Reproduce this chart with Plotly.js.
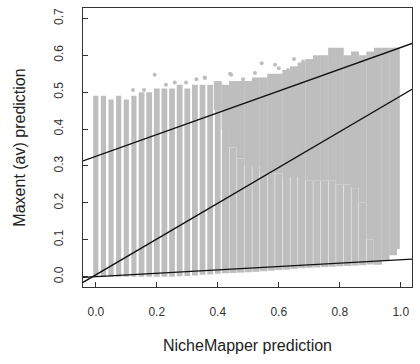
<!DOCTYPE html>
<html>
<head>
<meta charset="utf-8">
<script src="https://cdn.plot.ly/plotly-3.0.1.min.js"></script>
<style>html,body{margin:0;padding:0;background:#fff;}#chart{width:420px;height:364px;}</style>
</head>
<body>
<div id="chart"></div>
<script>
// Point cloud read as vertical columns: centre x, lower edge, upper edge,
// and the height below which the column shows white streaks.
const colX = [0.000,0.025,0.050,0.075,0.100,0.125,0.150,0.175,0.200,0.225,0.250,0.275,0.300,0.325,0.350,0.375,0.400,0.425,0.450,0.475,0.500,0.525,0.550,0.575,0.600,0.625,0.650,0.675,0.700,0.725,0.750,0.775,0.800,0.825,0.850,0.875,0.900,0.925,0.950,0.975,0.987];
const colLow = [0.000,0.000,0.000,0.000,0.000,0.000,0.000,0.000,0.000,0.000,0.000,0.001,0.002,0.003,0.005,0.006,0.008,0.009,0.010,0.011,0.012,0.013,0.015,0.016,0.018,0.019,0.021,0.023,0.024,0.025,0.026,0.027,0.028,0.029,0.030,0.031,0.033,0.037,0.045,0.058,0.075];
const colHigh = [0.49,0.49,0.48,0.49,0.48,0.49,0.50,0.50,0.51,0.51,0.51,0.52,0.51,0.52,0.52,0.52,0.53,0.52,0.53,0.53,0.53,0.54,0.54,0.55,0.55,0.56,0.57,0.58,0.59,0.60,0.60,0.62,0.62,0.60,0.61,0.60,0.61,0.62,0.62,0.62,0.62];
const colSplit = [0.49,0.49,0.48,0.49,0.48,0.49,0.50,0.50,0.51,0.51,0.51,0.52,0.51,0.52,0.52,0.52,0.45,0.40,0.35,0.32,0.30,0.30,0.28,0.28,0.28,0.27,0.27,0.27,0.26,0.26,0.26,0.26,0.25,0.25,0.24,0.20,0.10,0.033,0.045,0.058,0.075];

// Scattered points above the dense envelope
const outX = [0.122,0.158,0.193,0.259,0.296,0.357,0.444,0.483,0.522,0.544,0.588,0.630,0.680,0.713,0.440,0.358,0.230,0.330,0.600,0.650];
const outY = [0.506,0.506,0.547,0.526,0.526,0.540,0.547,0.535,0.552,0.578,0.574,0.560,0.583,0.574,0.550,0.538,0.520,0.535,0.565,0.590];

// Fitted lines: intercepts and slopes
const lineIntercept = [0.326, 0.005, 0.000];
const lineSlope = [0.295, 0.485, 0.046];

const tickVX = [0,0.2,0.4,0.6,0.8,1.0];
const tickTX = ['0.0','0.2','0.4','0.6','0.8','1.0'];
const tickVY = [0,0.1,0.2,0.3,0.4,0.5,0.6,0.7];
const tickTY = ['0.0','0.1','0.2','0.3','0.4','0.5','0.6','0.7'];

const xRange = [-0.042, 1.037];
const yRange = [-0.028, 0.728];
const GRAY = '#bebebe';

function narrowWidth(x){
  if (x < 0.15) return 0.017;
  if (x < 0.42) return 0.019;
  return 0.0235;
}

const traces = [];
traces.push({
  type:'bar', x: colX, base: colLow,
  y: colX.map((_,i)=>colSplit[i]-colLow[i]),
  width: colX.map(narrowWidth),
  marker:{color:GRAY, line:{width:0}}, hoverinfo:'skip', showlegend:false
});
traces.push({
  type:'bar', x: colX, base: colSplit,
  y: colX.map((_,i)=>Math.max(0,colHigh[i]-colSplit[i])),
  width: colX.map(x=> x>0.98 ? 0.02 : 0.026),
  marker:{color:GRAY, line:{width:0}}, hoverinfo:'skip', showlegend:false
});
traces.push({
  type:'scatter', mode:'markers', x: outX, y: outY,
  marker:{color:GRAY, size:4}, hoverinfo:'skip', showlegend:false
});
lineIntercept.forEach((a,i)=>{
  traces.push({
    type:'scatter', mode:'lines', x: xRange,
    y: xRange.map(x=>a+lineSlope[i]*x),
    line:{color:'#111', width:1.3}, hoverinfo:'skip', showlegend:false
  });
});

const font = {family:'Liberation Sans, Arial, sans-serif', color:'#222'};
const layout = {
  width:420, height:364,
  margin:{l:83, r:8, t:8, b:77},
  paper_bgcolor:'#fff', plot_bgcolor:'#fff',
  barmode:'overlay', showlegend:false,
  font: font,
  xaxis:{
    range:xRange, tickvals:tickVX, ticktext:tickTX,
    ticks:'inside', ticklen:5, tickwidth:1, tickcolor:'#333',
    showline:true, mirror:true, linecolor:'#333', linewidth:1,
    showgrid:false, zeroline:false,
    tickfont:{size:12, color:'#333', family:font.family},
    ticklabelstandoff:14,
    title:{text:'NicheMapper prediction', font:{size:16, color:'#222', family:font.family}, standoff:21}
  },
  yaxis:{
    range:yRange, tickvals:tickVY, ticktext:tickTY, tickangle:-90,
    ticks:'inside', ticklen:5, tickwidth:1, tickcolor:'#333',
    showline:true, mirror:true, linecolor:'#333', linewidth:1,
    showgrid:false, zeroline:false,
    tickfont:{size:12, color:'#333', family:font.family},
    ticklabelstandoff:14,
    title:{text:'Maxent (av) prediction', font:{size:16, color:'#222', family:font.family}, standoff:22}
  }
};
Plotly.newPlot('chart', traces, layout, {displayModeBar:false, staticPlot:true});
</script>
</body>
</html>
